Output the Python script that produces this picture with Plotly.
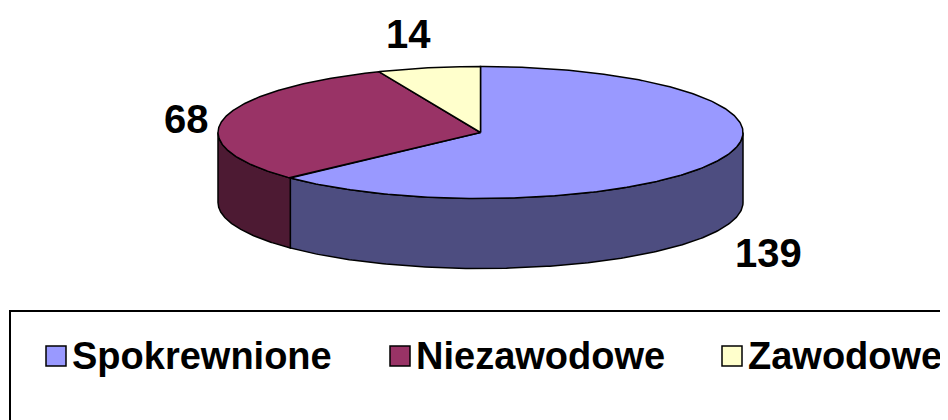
import numpy as np
import plotly.graph_objects as go

# ---- data ----
categories = ["Spokrewnione", "Niezawodowe", "Zawodowe"]
values = [139, 68, 14]
value_labels = [str(v) for v in values]

# ---- style ----
top_colors = ["#9999FF", "#993366", "#FFFFCC"]
side_colors = ["#4D4D80", "#4D1A33", "#80805F"]
W, H = 948, 420
CX, CY, RX, RY, DEPTH = 472.5, 124.5, 262.5, 66, 70
LABEL_OFFSETS = [(47, 24), (-37, 0), (-20, -34)]
FONT = "Liberation Sans, Arial, sans-serif"
LEGEND_BOX = (2, 303)
LEGEND_SQ_X = [38, 382, 714]
LEGEND_Y = 348
SQ = 20
GAP = 4

total = float(sum(values))
bounds = np.concatenate([[0], np.cumsum(values)]) / total * 360.0  # clockwise from 12 o'clock


def ell(t_deg, dy=0.0):
    th = np.radians(90 - np.asarray(t_deg))
    return CX + RX * np.cos(th), CY - RY * np.sin(th) + dy


fig = go.Figure()

# front sides (visible half: 90..270 clockwise from top)
for i, cat in enumerate(categories):
    a, b = max(bounds[i], 90), min(bounds[i + 1], 270)
    if b <= a:
        continue
    t = np.linspace(a, b, 200)
    xt, yt = ell(t)
    xb, yb = ell(t[::-1], DEPTH)
    xs = np.concatenate([xt, xb, xt[:1]])
    ys = np.concatenate([yt, yb, yt[:1]])
    fig.add_trace(go.Scatter(x=xs, y=ys, mode="lines", fill="toself",
                             fillcolor=side_colors[i],
                             line=dict(color="black", width=1.5),
                             hoverinfo="skip", showlegend=False))

# top faces
for i, cat in enumerate(categories):
    t = np.linspace(bounds[i], bounds[i + 1], 300)
    xt, yt = ell(t)
    xs = np.concatenate([[CX], xt, [CX]])
    ys = np.concatenate([[CY], yt, [CY]])
    fig.add_trace(go.Scatter(x=xs, y=ys, mode="lines", fill="toself",
                             fillcolor=top_colors[i],
                             line=dict(color="black", width=1.5),
                             name=cat, hoverinfo="skip", showlegend=False))

annotations = []
for i, lab in enumerate(value_labels):
    mid = (bounds[i] + bounds[i + 1]) / 2
    front = 90 < mid < 270
    x, y = ell(mid, DEPTH if front else 0)
    dx, dy = LABEL_OFFSETS[i]
    annotations.append(dict(x=float(x) + dx, y=float(y) + dy, text="<b>%s</b>" % lab,
                            showarrow=False, xref="x", yref="y",
                            xanchor="center", yanchor="middle",
                            font=dict(family=FONT, size=40, color="black")))

shapes = [dict(type="rect", xref="x", yref="y", x0=LEGEND_BOX[0], y0=LEGEND_BOX[1],
               x1=W + 10, y1=H + 10, line=dict(color="black", width=2),
               fillcolor="rgba(0,0,0,0)")]
for i, cat in enumerate(categories):
    x0 = LEGEND_SQ_X[i]
    shapes.append(dict(type="rect", xref="x", yref="y", x0=x0, x1=x0 + SQ,
                       y0=LEGEND_Y - SQ / 2, y1=LEGEND_Y + SQ / 2,
                       line=dict(color="black", width=1.5), fillcolor=top_colors[i]))
    annotations.append(dict(x=x0 + SQ + GAP, y=LEGEND_Y, text="<b>%s</b>" % cat, showarrow=False,
                            xref="x", yref="y", xanchor="left", yanchor="middle",
                            font=dict(family=FONT, size=38, color="black")))

fig.update_layout(
    width=W, height=H, margin=dict(l=0, r=0, t=0, b=0),
    paper_bgcolor="white", plot_bgcolor="white",
    xaxis=dict(range=[0, W], visible=False, fixedrange=True),
    yaxis=dict(range=[H, 0], visible=False, fixedrange=True),
    annotations=annotations, shapes=shapes, showlegend=False,
)
fig.write_html("out.html")
